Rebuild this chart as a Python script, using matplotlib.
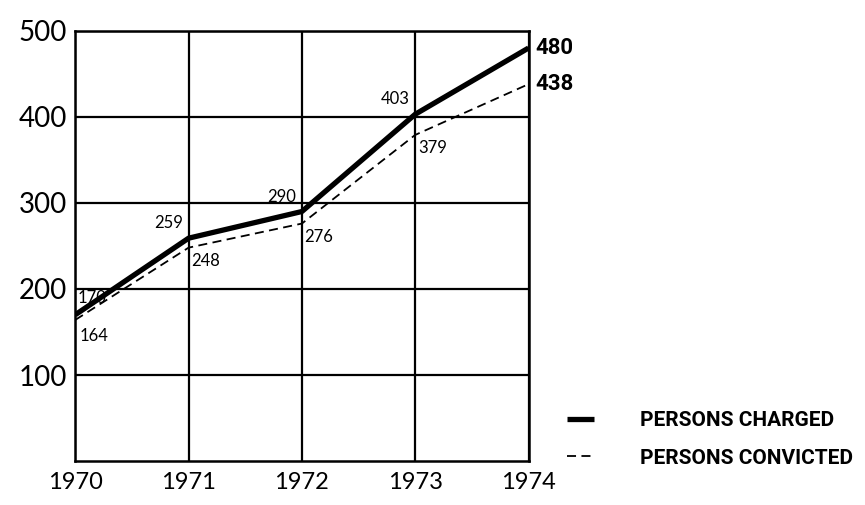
import matplotlib
matplotlib.use('Agg')
import matplotlib.pyplot as plt

years = [1970, 1971, 1972, 1973, 1974]
charged = [170, 259, 290, 403, 480]
convicted = [164, 248, 276, 379, 438]
y_ticks = [100, 200, 300, 400, 500]

plt.rcParams['font.family'] = ['Lato', 'DejaVu Sans']
bold_family = ['Roboto', 'DejaVu Sans']

fig = plt.figure(figsize=(8.65, 5.05), dpi=100)
ax = fig.add_axes([0.087, 0.087, 0.524, 0.852])

ax.plot(years, charged, color='black', lw=3.8, solid_capstyle='butt',
        label='PERSONS CHARGED', zorder=4)
ax.plot(years, convicted, color='black', lw=1.3, dashes=(5, 3),
        label='PERSONS CONVICTED', zorder=3)

ax.set_xlim(1970, 1974)
ax.set_ylim(0, 500)
ax.set_xticks(years)
ax.set_yticks(y_ticks)
ax.grid(True, color='black', lw=1.6)
for s in ax.spines.values():
    s.set_linewidth(1.8)
ax.tick_params(length=0, labelsize=20, pad=6)
ax.tick_params(axis='x', labelsize=17, pad=8)

# value labels
lab_font = dict(fontsize=12, color='black')
ax.annotate(str(charged[0]), (years[0], 200), xytext=(2, -1), textcoords='offset points',
            ha='left', va='top', **lab_font)
ax.annotate(str(convicted[0]), (years[0], convicted[0]), xytext=(3, -6), textcoords='offset points',
            ha='left', va='top', **lab_font)
for i in range(1, 4):
    ax.annotate(str(charged[i]), (years[i], charged[i]), xytext=(-4, 5), textcoords='offset points',
                ha='right', va='bottom', **lab_font)
    ax.annotate(str(convicted[i]), (years[i], convicted[i]), xytext=(2, -4), textcoords='offset points',
                ha='left', va='top', **lab_font)
end_font = dict(fontsize=16, fontweight='bold', family=bold_family)
ax.annotate(str(charged[4]), (years[4], charged[4]), xytext=(5, 0), textcoords='offset points',
            ha='left', va='center', annotation_clip=False, **end_font)
ax.annotate(str(convicted[4]), (years[4], convicted[4]), xytext=(5, 0), textcoords='offset points',
            ha='left', va='center', annotation_clip=False, **end_font)

fig.legend(loc='center left', bbox_to_anchor=(0.634, 0.13), frameon=False,
           handlelength=1.3, handletextpad=2.2, labelspacing=0.9,
           prop=dict(family=bold_family, weight='bold', size=15))

fig.savefig('out.png', dpi=100, facecolor='white')
